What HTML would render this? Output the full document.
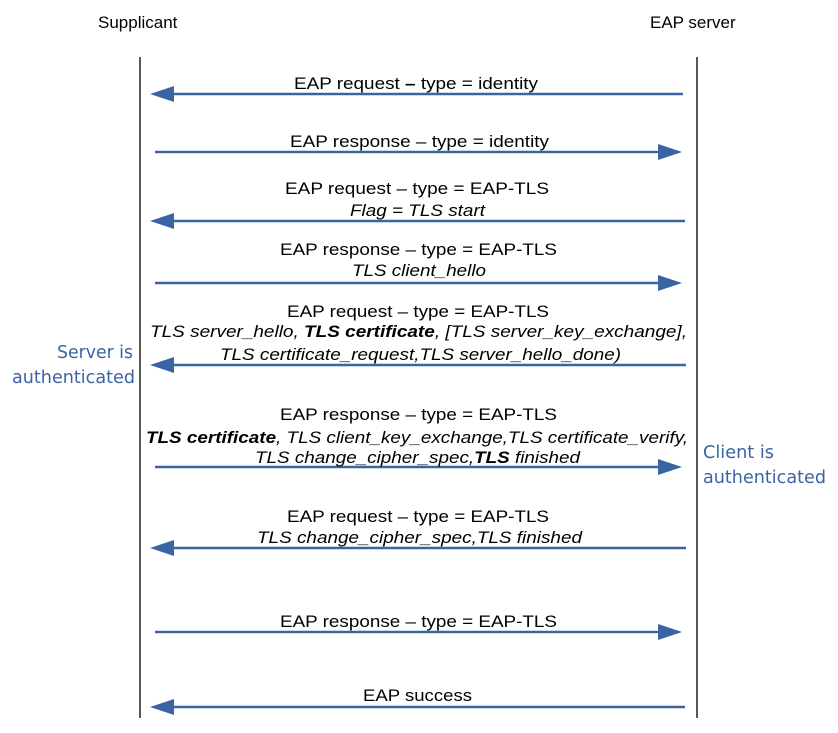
<!DOCTYPE html>
<html><head><meta charset="utf-8"><style>html,body{margin:0;padding:0;background:#fff}</style></head>
<body>
<svg width="838" height="728" viewBox="0 0 838 728" xmlns="http://www.w3.org/2000/svg" font-family="Liberation Sans, sans-serif" font-size="17">
<text x="98" y="28" font-size="17">Supplicant</text>
<text x="650" y="28" font-size="17">EAP server</text>
<line x1="140" y1="57" x2="140" y2="718" stroke="#000" stroke-width="1.3"/>
<line x1="697" y1="57" x2="697" y2="718" stroke="#000" stroke-width="1.3"/>
<g stroke="#3a64a3" stroke-width="2.5" fill="#3a64a3">
<line x1="683" y1="94" x2="170" y2="94"/><polygon stroke="none" points="150,94 174,86 174,102"/>
<line x1="155" y1="152" x2="662" y2="152"/><polygon stroke="none" points="682,152 658,144 658,160"/>
<line x1="685" y1="221" x2="170" y2="221"/><polygon stroke="none" points="150,221 174,213 174,229"/>
<line x1="155" y1="283" x2="662" y2="283"/><polygon stroke="none" points="682,283 658,275 658,291"/>
<line x1="686" y1="365" x2="170" y2="365"/><polygon stroke="none" points="150,365 174,357 174,373"/>
<line x1="155" y1="467" x2="662" y2="467"/><polygon stroke="none" points="682,467 658,459 658,475"/>
<line x1="686" y1="548" x2="170" y2="548"/><polygon stroke="none" points="150,548 174,540 174,556"/>
<line x1="155" y1="632" x2="662" y2="632"/><polygon stroke="none" points="682,632 658,624 658,640"/>
<line x1="685" y1="707" x2="170" y2="707"/><polygon stroke="none" points="150,707 174,699 174,715"/>
</g>
<g fill="#000">
<text x="294" y="89" textLength="244" lengthAdjust="spacingAndGlyphs">EAP request <tspan font-weight="bold">–</tspan> type = identity</text>
<text x="290" y="147" textLength="259" lengthAdjust="spacingAndGlyphs">EAP response – type = identity</text>
<text x="285" y="194" textLength="264" lengthAdjust="spacingAndGlyphs">EAP request – type = EAP-TLS</text>
<text x="350" y="216" textLength="135" lengthAdjust="spacingAndGlyphs" font-style="italic">Flag = TLS start</text>
<text x="280" y="255" textLength="277" lengthAdjust="spacingAndGlyphs">EAP response – type = EAP-TLS</text>
<text x="352" y="276" textLength="134" lengthAdjust="spacingAndGlyphs" font-style="italic">TLS client_hello</text>
<text x="287" y="317" textLength="262" lengthAdjust="spacingAndGlyphs">EAP request – type = EAP-TLS</text>
<text x="150" y="337" textLength="537" lengthAdjust="spacingAndGlyphs" font-style="italic">TLS server_hello, <tspan font-weight="bold">TLS certificate</tspan>, [TLS server_key_exchange],</text>
<text x="220" y="360" textLength="401" lengthAdjust="spacingAndGlyphs" font-style="italic">TLS certificate_request,TLS server_hello_done)</text>
<text x="280" y="420" textLength="277" lengthAdjust="spacingAndGlyphs">EAP response – type = EAP-TLS</text>
<text x="146" y="443" textLength="542" lengthAdjust="spacingAndGlyphs" font-style="italic"><tspan font-weight="bold">TLS certificate</tspan>, TLS client_key_exchange,TLS certificate_verify,</text>
<text x="255" y="463" textLength="325" lengthAdjust="spacingAndGlyphs" font-style="italic">TLS change_cipher_spec,<tspan font-weight="bold">TLS</tspan> finished</text>
<text x="287" y="522" textLength="262" lengthAdjust="spacingAndGlyphs">EAP request – type = EAP-TLS</text>
<text x="257" y="543" textLength="325" lengthAdjust="spacingAndGlyphs" font-style="italic">TLS change_cipher_spec,TLS finished</text>
<text x="280" y="627" textLength="277" lengthAdjust="spacingAndGlyphs">EAP response – type = EAP-TLS</text>
<text x="363" y="701" textLength="109" lengthAdjust="spacingAndGlyphs">EAP success</text>
</g>
<g fill="#3a64a3" font-family="DejaVu Sans, sans-serif" font-size="18">
<text x="57" y="358" textLength="76" lengthAdjust="spacingAndGlyphs">Server is</text>
<text x="12" y="383" textLength="123" lengthAdjust="spacingAndGlyphs">authenticated</text>
<text x="703" y="458" textLength="71" lengthAdjust="spacingAndGlyphs">Client is</text>
<text x="703" y="483" textLength="123" lengthAdjust="spacingAndGlyphs">authenticated</text>
</g>
</svg>
</body></html>
